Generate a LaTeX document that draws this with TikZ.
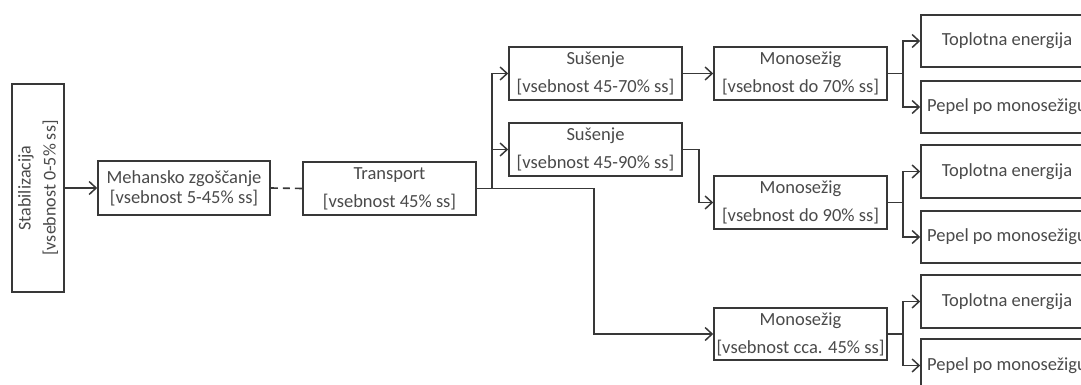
\documentclass[tikz,border=0pt]{standalone}
\usepackage{fontspec}
\setmainfont{Carlito}
\usetikzlibrary{arrows.meta}
\definecolor{ln}{HTML}{383838}
\definecolor{tx}{HTML}{4A4A4A}
\tikzset{
  box/.style={draw=ln, line width=1.6pt, fill=white, inner sep=0pt, align=center,
    text=tx, font=\fontsize{18.5}{28}\selectfont},
  conn/.style={draw=ln, line width=1.6pt},
  arr/.style={conn, -{Straight Barb[length=7pt,width=13pt,line width=1.5pt]}},
  dsh/.style={conn, dash pattern=on 7pt off 5pt}
}
\begin{document}
\begin{tikzpicture}[x=1pt,y=-1pt]
\useasboundingbox (0,0) rectangle (1081,385);
\clip (0,0) rectangle (1081,385);
% nodes
\node[box, minimum width=52pt, minimum height=208pt] (st) at (38,188) {};
\node[tx, rotate=90, align=center, inner sep=0pt, font=\fontsize{18}{25}\selectfont] (stt) at (38,188) {Stabilizacija\\{[vsebnost 0-5\% ss]}};
\node[box, minimum width=172pt, minimum height=54pt, font=\fontsize{18.5}{20}\selectfont] (me) at (184,188) {Mehansko zgoščanje\\{[vsebnost 5-45\% ss]}};
\node[box, minimum width=173pt, minimum height=53pt] (tr) at (389.5,188.5) {Transport\\{[vsebnost 45\% ss]}};
\node[box, minimum width=173pt, minimum height=53pt] (s1) at (595.5,73.5) {Sušenje\\{[vsebnost 45-70\% ss]}};
\node[box, minimum width=173pt, minimum height=53pt] (s2) at (595.5,149.5) {Sušenje\\{[vsebnost 45-90\% ss]}};
\node[box, minimum width=173pt, minimum height=53pt] (m1) at (800.5,73.5) {Monosežig\\{[vsebnost do 70\% ss]}};
\node[box, minimum width=173pt, minimum height=53pt] (m2) at (800.5,202.5) {Monosežig\\{[vsebnost do 90\% ss]}};
\node[box, minimum width=173pt, minimum height=52pt] (m3) at (800.5,334) {Monosežig\\{[vsebnost cca. 45\% ss]}};
\node[box, minimum width=172pt, minimum height=52pt] (t1) at (1007,41) {Toplotna energija};
\node[box, minimum width=172pt, minimum height=52pt] (p1) at (1007,107) {Pepel po monosežigu};
\node[box, minimum width=172pt, minimum height=53pt] (t2) at (1007,171.5) {Toplotna energija};
\node[box, minimum width=172pt, minimum height=52pt] (p2) at (1007,237) {Pepel po monosežigu};
\node[box, minimum width=172pt, minimum height=53pt] (t3) at (1007,301.5) {Toplotna energija};
\node[box, minimum width=172pt, minimum height=53pt] (p3) at (1007,365.5) {Pepel po monosežigu};
% branch coordinates
\coordinate (bt) at (492,0);
\coordinate (b3) at (594,0);
\coordinate (bs) at (699,0);
\coordinate (bm) at (903,0);
% connectors
\draw[arr] (st.east |- me.west) -- (me.west);
\draw[dsh] (me.east) -- (tr.west);
\draw[arr] (tr.east) -| (bt |- s1.west) -- (s1.west);
\draw[arr] (tr.east) -| (bt |- s2.west) -- (s2.west);
\draw[arr] (tr.east) -| (b3 |- m3.west) -- (m3.west);
\draw[arr] (s1.east) -- (m1.west);
\draw[arr] (s2.east) -| (bs |- m2.west) -- (m2.west);
\draw[arr] (m1.east) -| (bm |- t1.west) -- (t1.west);
\draw[arr] (m1.east) -| (bm |- p1.west) -- (p1.west);
\draw[arr] (m2.east) -| (bm |- t2.west) -- (t2.west);
\draw[arr] (m2.east) -| (bm |- p2.west) -- (p2.west);
\draw[arr] (m3.east) -| (bm |- t3.west) -- (t3.west);
\draw[arr] (m3.east) -| (bm |- p3.west) -- (p3.west);
\end{tikzpicture}
\end{document}
